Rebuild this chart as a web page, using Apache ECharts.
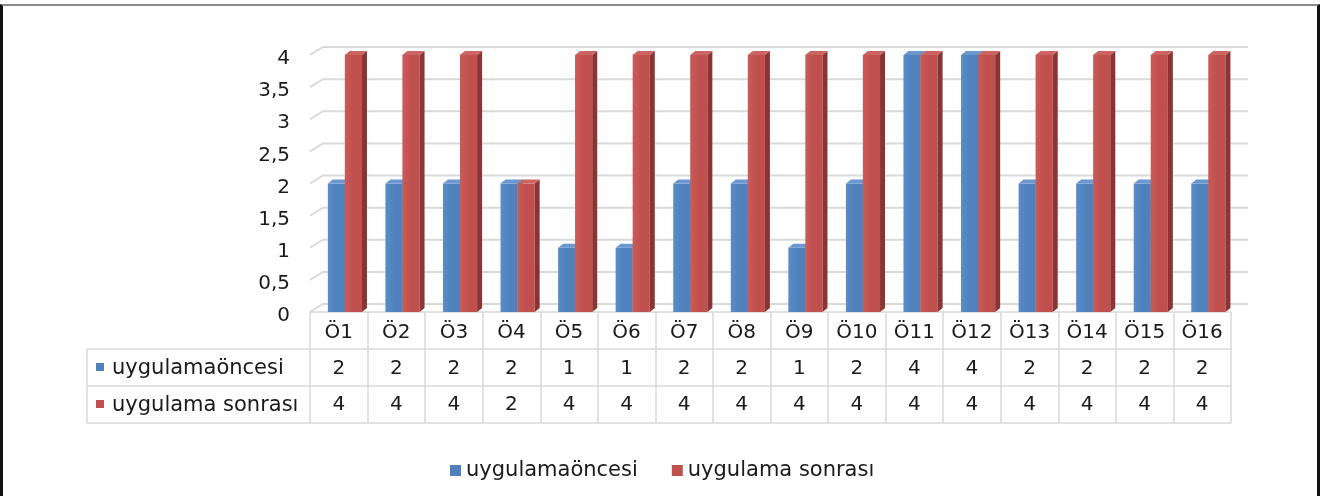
<!DOCTYPE html>
<html>
<head>
<meta charset="utf-8">
<script src="https://cdn.jsdelivr.net/npm/echarts@6/dist/echarts.min.js"></script>
<style>
html,body{margin:0;padding:0;background:#fff;}
#wrap{position:relative;width:1324px;height:496px;overflow:hidden;}
#chart{position:absolute;left:0;top:0;width:1324px;height:496px;}
#frame{position:absolute;left:0;top:4px;width:1314px;height:500px;border-left:3px solid #111;border-top:2px solid #8a8a8a;border-right:3px solid #111;pointer-events:none;}
</style>
</head>
<body>
<div id="wrap"><div id="chart"></div><div id="frame"></div></div>
<script>
const categories = ['Ö1','Ö2','Ö3','Ö4','Ö5','Ö6','Ö7','Ö8','Ö9','Ö10','Ö11','Ö12','Ö13','Ö14','Ö15','Ö16'];
const seriesNames = ['uygulamaöncesi', 'uygulama sonrası'];
const beforeVals = [2,2,2,2,1,1,2,2,1,2,4,4,2,2,2,2];
const afterVals  = [4,4,4,2,4,4,4,4,4,4,4,4,4,4,4,4];
const yTicks = [0,0.5,1,1.5,2,2.5,3,3.5,4];

const FONT = 'DejaVu Sans';
const TXT = '#1a1a1a';
const LINE = '#d9d9d9';
const colors = [
  {front:'#4f81bd', light:'#5a8cca', side:'#3b6494', top:'#6a97cf'},
  {front:'#c0504d', light:'#c95b58', side:'#8a3533', top:'#cc6461'}
];
const DEPTH_X = 5, DEPTH_Y = -4;
const WALL_X = 13, WALL_Y = -8;

const chart = echarts.init(document.getElementById('chart'), null, {renderer:'canvas'});

function barRender(sIdx) {
  return function (params, api) {
    const i = api.value(0), v = api.value(1);
    const top = api.coord([i, v]);
    const base = api.coord([i, 0]);
    const bw = api.size([1, 0])[0];
    const off = sIdx === 0 ? -0.19 : 0.105;
    const w = 0.298 * bw;
    const x0 = top[0] + off * bw;
    const yT = top[1], yB = base[1];
    const c = colors[sIdx];
    return {
      type: 'group',
      children: [
        {type:'rect', shape:{x:x0, y:yT, width:w, height:yB-yT},
          style:{fill:new echarts.graphic.LinearGradient(0,0,1,0,[{offset:0,color:c.light},{offset:0.5,color:c.front},{offset:1,color:c.front}])}},
        {type:'polygon', shape:{points:[[x0+w,yT],[x0+w+DEPTH_X,yT+DEPTH_Y],[x0+w+DEPTH_X,yB+DEPTH_Y],[x0+w,yB]]},
          style:{fill:c.side}},
        {type:'polygon', shape:{points:[[x0,yT],[x0+DEPTH_X,yT+DEPTH_Y],[x0+w+DEPTH_X,yT+DEPTH_Y],[x0+w,yT]]},
          style:{fill:c.top}}
      ]
    };
  };
}

function wallRender(params, api) {
  const cs = params.coordSys;
  const v = api.value(1);
  const p = api.coord([0, v]);
  const y = p[1];
  return {
    type:'polyline',
    shape:{points:[[cs.x, y],[cs.x+WALL_X, y+WALL_Y],[cs.x+cs.width+17, y+WALL_Y]]},
    style:{stroke:LINE, lineWidth:2, fill:null}
  };
}

function valueAxis(vals, offset, margin, showLabel, tickLen) {
  return {
    type:'category', gridIndex:0, position:'bottom', offset:offset,
    data:categories,
    axisLine:{show:true, lineStyle:{color:LINE, width:1.5}},
    axisTick:{show:tickLen>0, length:tickLen, interval:0, lineStyle:{color:LINE, width:1.5}},
    axisLabel:{show:showLabel, interval:0, margin:margin, fontFamily:FONT, fontSize:20, color:TXT,
      formatter:function(val, idx){ return vals ? String(vals[idx]) : val; }},
    splitLine:{show:false}
  };
}

const option = {
  animation:false,
  backgroundColor:'#fff',
  grid:[
    {left:310, top:55, width:921, height:257},
    {left:310, top:59, width:921, height:257}
  ],
  xAxis:[
    valueAxis(null, 0, 11, true, 37),
    valueAxis(beforeVals, 37, 10, true, 37),
    valueAxis(afterVals, 74, 9, true, 37),
    valueAxis(null, 111, 0, false, 0),
    {type:'category', gridIndex:1, data:categories, show:false}
  ],
  yAxis:[{
    type:'value', min:0, max:4, interval:0.5, gridIndex:0,
    axisLine:{show:false}, axisTick:{show:false}, splitLine:{show:false}, axisLabel:{show:false}
  },{
    type:'value', min:0, max:4, interval:0.5, gridIndex:1,
    axisLine:{show:false}, axisTick:{show:false}, splitLine:{show:false},
    axisLabel:{margin:20, fontFamily:FONT, fontSize:20, color:TXT,
      formatter:function(v){ return String(v).replace('.', ','); }}
  }],
  legend:{
    data:seriesNames, left:445, top:455, icon:'rect', itemWidth:11, itemHeight:11, itemGap:34,
    textStyle:{fontFamily:FONT, fontSize:21, color:TXT}
  },
  series:[
    {type:'custom', name:'wall', z:1, silent:true, renderItem:wallRender,
      data:yTicks.map(function(v){return [0, v];}), encode:{x:0, y:1}},
    {type:'custom', name:seriesNames[0], z:3, renderItem:barRender(0), itemStyle:{color:colors[0].front},
      data:beforeVals.map(function(v,i){return [i, v];}), encode:{x:0, y:1}},
    {type:'custom', name:seriesNames[1], z:4, renderItem:barRender(1), itemStyle:{color:colors[1].front},
      data:afterVals.map(function(v,i){return [i, v];}), encode:{x:0, y:1}}
  ],
  graphic:[
    {type:'line', shape:{x1:87, y1:349, x2:310, y2:349}, style:{stroke:LINE, lineWidth:1.5}},
    {type:'line', shape:{x1:87, y1:386, x2:310, y2:386}, style:{stroke:LINE, lineWidth:1.5}},
    {type:'line', shape:{x1:87, y1:423, x2:310, y2:423}, style:{stroke:LINE, lineWidth:1.5}},
    {type:'line', shape:{x1:87, y1:349, x2:87, y2:423}, style:{stroke:LINE, lineWidth:1.5}},
    {type:'rect', shape:{x:96, y:363, width:8, height:8}, style:{fill:colors[0].front}},
    {type:'rect', shape:{x:96, y:400, width:8, height:8}, style:{fill:colors[1].front}},
    {type:'text', x:112, y:369, style:{text:seriesNames[0], fontFamily:FONT, fontSize:21, fill:TXT, verticalAlign:'middle'}},
    {type:'text', x:112, y:406, style:{text:seriesNames[1], fontFamily:FONT, fontSize:21, fill:TXT, verticalAlign:'middle'}}
  ]
};
chart.setOption(option);
</script>
</body>
</html>
